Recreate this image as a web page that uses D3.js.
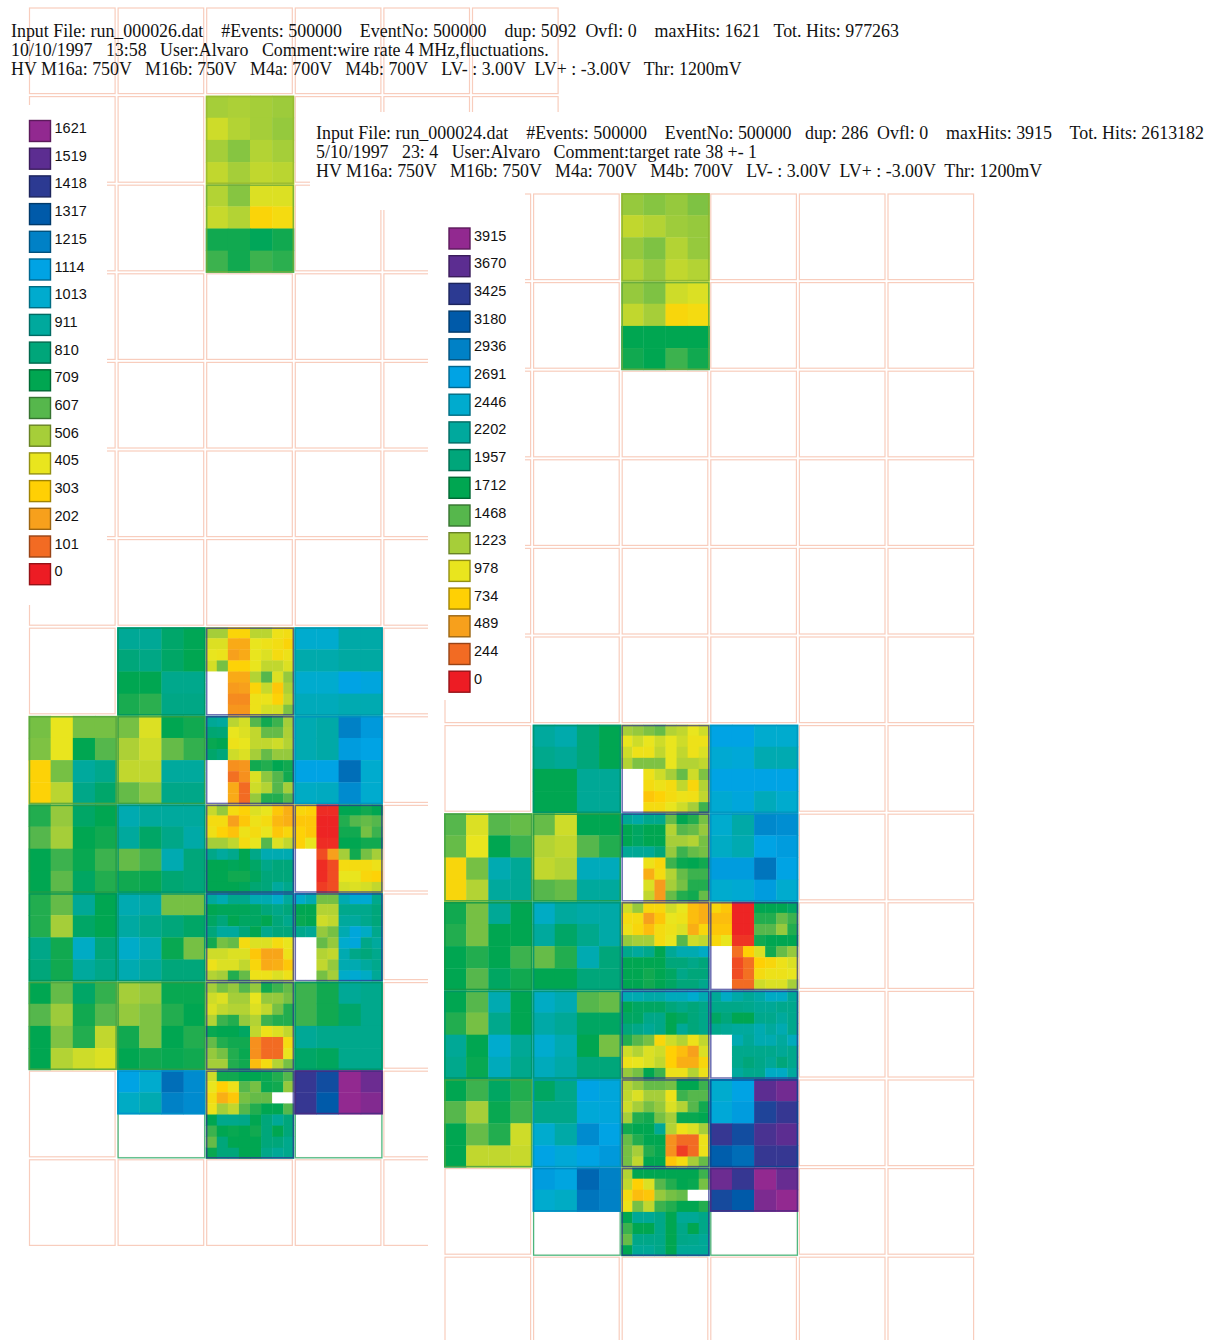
<!doctype html>
<html>
<head>
<meta charset="utf-8">
<script src="https://cdn.jsdelivr.net/npm/d3@7"></script>
<style>
  body { margin: 0; background: #fff; }
  svg { display: block; }
  .hdr { font-family: "Liberation Serif", "Times New Roman", serif; font-size: 17.9px; white-space: pre; fill: #111; }
  .leg { font-family: "Liberation Sans", Arial, sans-serif; font-size: 14.5px; fill: #111; }
</style>
</head>
<body>
<svg width="1216" height="1340"></svg>
<script>
// colour steps of the legend (lowest to highest)
var legendColors = ["#ed1c24", "#f26b23", "#f7a01c", "#ffd004", "#e9e51e", "#a6ce39", "#56b74c",
  "#00a651", "#00a67a", "#00a99d", "#00abce", "#00a3e4", "#0081c6", "#005aa9", "#2c3a92", "#5c2d91", "#922990"];

var p1Ticks = [0, 101, 202, 303, 405, 506, 607, 709, 810, 911, 1013, 1114, 1215, 1317, 1418, 1519, 1621];
var p2Ticks = [0, 244, 489, 734, 978, 1223, 1468, 1712, 1957, 2202, 2446, 2691, 2936, 3180, 3425, 3670, 3915];

var p1Header = [
  "Input File: run_000026.dat    #Events: 500000    EventNo: 500000    dup: 5092  Ovfl: 0    maxHits: 1621   Tot. Hits: 977263",
  "10/10/1997   13:58   User:Alvaro   Comment:wire rate 4 MHz,fluctuations.",
  "HV M16a: 750V   M16b: 750V   M4a: 700V   M4b: 700V   LV- : 3.00V  LV+ : -3.00V   Thr: 1200mV"
];
var p2Header = [
  "Input File: run_000024.dat    #Events: 500000    EventNo: 500000   dup: 286  Ovfl: 0    maxHits: 3915    Tot. Hits: 2613182",
  "5/10/1997   23: 4   User:Alvaro   Comment:target rate 38 +- 1",
  "HV M16a: 750V   M16b: 750V   M4a: 700V   M4b: 700V   LV- : 3.00V  LV+ : -3.00V  Thr: 1200mV"
];

// module slots [column, row] in the chamber grid
var p1Slots = [[2,1],[2,2],[1,7],[2,7],[3,7],[0,8],[1,8],[2,8],[3,8],[0,9],[1,9],[2,9],[3,9],
  [0,10],[1,10],[2,10],[3,10],[0,11],[1,11],[2,11],[3,11],[1,12],[2,12],[3,12]];
var p2Slots = [[2,0],[2,1],[1,6],[2,6],[3,6],[0,7],[1,7],[2,7],[3,7],[0,8],[1,8],[2,8],[3,8],
  [0,9],[1,9],[2,9],[3,9],[0,10],[1,10],[2,10],[3,10],[1,11],[2,11],[3,11]];

// hits per wire pad, one block per module (null = dead channel)
var p1Hits = [
  [[507,497,507,517],[446,486,507,527],[507,547,486,507],[466,507,466,476]],
  [[486,547,425,425],[456,486,324,355],[689,689,729,689],[638,689,638,658]],
  [[891,891,770,719],[810,841,760,709],[709,709,861,861],[679,658,841,841]],
  [[507,507,324,324,476,476,385,365],[425,425,223,223,405,385,365,324],[405,395,203,223,405,425,355,385],[436,567,314,314,405,466,466,425],
   [null,null,223,223,486,608,425,527],[null,null,192,203,324,456,284,496],[null,null,162,162,385,395,314,466],[null,null,182,182,385,436,436,557]],
  [[1013,1013,932,932],[942,942,922,922],[1013,1013,1114,1084],[972,972,952,952]],
  [[567,405,567,567],[557,405,709,608],[314,567,912,861],[314,476,851,770]],
  [[567,425,709,689],[496,446,588,648],[466,466,912,912],[588,537,851,851]],
  [[891,912,476,436,608,689,638,507],[790,800,405,425,466,588,588,496],[699,709,385,405,466,466,446,486],[770,810,446,425,507,588,527,527],
   [null,null,172,182,689,669,709,689],[null,null,111,172,425,537,608,689],[null,null,223,101,446,486,608,507],[null,null,223,101,527,669,669,608]],
  [[952,932,1216,1145],[952,932,1135,1114],[1114,1114,1266,1013],[993,983,1185,1013]],
  [[669,527,760,709],[608,507,709,689],[709,638,699,638],[709,598,750,669]],
  [[952,912,912,912],[912,760,851,932],[588,628,952,810],[689,699,790,810]],
  [[456,527,355,314,425,405,284,233],[355,355,203,284,385,355,253,233],[375,314,274,385,355,405,284,334],[507,507,466,355,405,608,425,466],
   [851,912,861,709,851,952,952,952],[709,709,729,709,760,851,810,810],[709,709,689,689,739,810,810,810],[709,709,709,729,790,810,912,861]],
  [[334,314,20,20,709,709,689,709],[284,284,10,10,669,608,588,608],[314,284,10,10,689,689,567,638],[314,405,20,20,709,709,689,689],
   [null,null,61,203,507,689,567,507],[null,null,20,61,355,355,355,385],[null,null,20,61,405,405,334,314],[null,null,41,61,436,425,436,466]],
  [[669,588,891,709],[669,507,760,709],[851,689,993,810],[810,689,912,851]],
  [[952,932,567,567],[922,861,810,760],[1003,952,699,567],[952,912,810,810]],
  [[912,952,861,861,952,952,1003,912],[709,729,729,729,750,810,851,810],[750,810,709,750,750,709,810,861],[810,912,912,810,709,861,810,810],
   [689,567,588,355,425,425,355,405],[446,446,425,425,284,213,213,385],[385,425,425,466,334,223,233,284],[486,507,669,588,385,385,425,385]],
  [[1003,952,567,567,952,1033,1033,861],[709,709,486,486,861,861,861,810],[699,709,446,466,912,912,861,810],[861,891,527,567,952,1074,993,861],
   [null,null,588,527,1013,1074,851,912],[null,null,486,466,952,851,810,861],[null,null,466,527,952,952,912,861],[null,null,567,507,1003,1033,993,891]],
  [[709,588,760,648],[608,517,689,608],[709,557,669,466],[709,486,446,425]],
  [[507,527,699,699],[527,557,669,709],[689,557,709,669],[709,689,699,689]],
  [[507,567,527,608,527,689,638,588],[446,425,507,507,405,527,527,567],[425,466,486,486,425,466,567,669],[486,638,669,527,486,638,669,669],
   [699,709,709,750,466,385,425,466],[588,669,689,689,172,101,101,355],[527,567,669,699,172,101,101,405],[507,507,669,689,263,355,486,567]],
  [[638,689,891,861],[638,689,770,861],[891,861,861,861],[760,739,861,861]],
  [[1114,1013,1266,1185],[993,952,1216,1185]],
  [[446,689,689,709,709,699,669,608],[405,304,385,608,567,699,689,527],[355,233,284,567,588,588,null,null],[385,507,466,608,669,709,709,608],
   [709,861,861,851,709,810,891,810],[638,709,699,709,689,810,709,810],[588,810,709,709,709,810,810,861],[699,810,810,709,709,851,891,861]],
  [[1438,1357,1621,1550],[1438,1317,1621,1590]]
];

var p2Hits = [
  [[1272,1321,1272,1346],[1126,1175,1248,1272],[1272,1346,1175,1272],[1175,1272,1126,1175]],
  [[1272,1346,1077,1028],[1126,1224,808,856],[1713,1713,1713,1713],[1664,1713,1542,1664]],
  [[2202,2276,1958,1713],[2080,2153,1958,1713],[1713,1713,2153,2153],[1713,1713,2153,2153]],
  [[1224,1272,1346,1419,1175,1126,979,1077],[979,1077,979,1077,979,1077,930,930],[1077,930,930,1126,979,1126,930,1028],[1175,1346,1346,1346,979,1175,1175,1126],
   [null,null,930,1077,1224,1419,1077,1346],[null,null,856,930,856,1126,808,1175],[null,null,685,759,856,930,905,1126],[null,null,856,856,979,1077,1224,1542]],
  [[2692,2692,2447,2447],[2496,2545,2300,2300],[2692,2692,2692,2692],[2496,2594,2349,2447]],
  [[1468,1028,1468,1419],[1419,979,1713,1542],[808,1370,2300,2153],[808,1175,2202,2153]],
  [[1419,1077,1713,1713],[1175,1126,1468,1615],[1126,1175,2349,2349],[1468,1419,2202,2202]],
  [[2153,2251,2080,2080,1419,1713,1615,1370],[1713,1811,1713,1713,1175,1468,1419,1272],[1713,1811,1713,1713,1224,1224,1175,1370],[2153,2153,2153,1958,1272,1542,1419,1370],
   [null,null,930,808,1542,1688,1713,1664],[null,null,563,856,1175,1419,1542,1542],[null,null,1028,465,1224,1370,1615,1615],[null,null,1126,465,1419,1615,1664,1419]],
  [[2447,2251,2887,2839],[2398,2300,2692,2741],[2741,2741,3010,2692],[2447,2496,2741,2447]],
  [[1664,1370,2153,1713],[1615,1370,1713,1713],[1713,1615,1713,1542],[1713,1468,1811,1664]],
  [[2398,2202,2251,2251],[2202,1835,2080,2251],[1419,1615,2300,1958],[1713,1713,1958,1958]],
  [[1077,1272,808,808,1077,979,636,563],[856,856,489,685,979,930,636,563],[930,808,636,856,930,1028,563,808],[1272,1224,1224,856,979,1468,1077,1126],
   [2080,2202,2080,1713,2153,2300,2300,2398],[1713,1713,1713,1713,1958,1958,2055,1958],[1713,1713,1664,1713,1811,2055,1958,1958],[1713,1713,1664,1713,1811,1958,1958,2080]],
  [[808,685,24,24,1713,1713,1713,1811],[636,636,24,24,1615,1615,1419,1542],[685,685,24,24,1468,1468,1272,1615],[808,979,73,73,1664,1713,1713,1713],
   [null,null,269,734,1028,1664,1419,1272],[null,null,147,269,734,808,930,1028],[null,null,147,269,856,930,930,979],[null,null,245,245,1077,1028,1028,1224]],
  [[1713,1468,2300,1713],[1615,1370,2080,1713],[2153,1713,2447,2153],[2080,1688,2349,2080]],
  [[2398,2300,1468,1419],[2251,2153,1811,1811],[2447,2300,1713,1370],[2349,2251,1958,1958]],
  [[2300,2300,2251,2251,2349,2349,2447,2300],[1713,1811,1811,1811,1958,2055,1958,2055],[1811,1811,2055,2055,1713,1811,1958,2055],[1958,2055,2153,2055,1713,2153,1958,2055],
   [1615,1468,1370,808,1077,1175,930,1126],[1077,1175,1028,1077,734,636,489,1028],[930,979,1028,1126,734,563,563,808],[1272,1370,1713,1542,930,930,1175,930]],
  [[2153,2398,2251,2153,2251,2398,2398,2153],[2055,2055,2055,2080,2153,2153,2080,2080],[1811,1958,1713,1713,2080,2080,2202,2080],[2080,2153,2202,2202,2300,2202,2300,2080],
   [null,null,2300,2153,2300,2300,2202,2349],[null,null,2080,2080,2080,2080,2153,2080],[null,null,2080,1958,2055,2153,1958,2080],[null,null,2202,2080,2080,2398,2398,2202]],
  [[1713,1542,1811,1615],[1468,1224,1688,1542],[1713,1419,1615,1077],[1713,1126,1126,1101]],
  [[1811,2055,2692,2594],[2055,2055,2545,2594],[2447,2251,2863,2692],[2692,2545,2692,2765]],
  [[1175,1272,1419,1419,1370,1713,1713,1542],[1126,1028,1224,1224,930,1542,1468,1468],[1077,1224,1370,1272,1028,1175,1468,1664],[1224,1615,1664,1370,1224,1688,1688,1713],
   [1664,1713,1713,2153,1175,930,1028,1224],[1419,1615,1713,1713,416,245,245,930],[1370,1224,1615,1688,416,98,245,930],[1370,1126,1713,1713,685,856,1224,1419]],
  [[2447,2692,3671,3768],[2545,2741,3352,3475],[3475,3279,3573,3671],[3156,3059,3475,3475]],
  [[2741,2643,3108,2936],[2447,2398,3010,2936]],
  [[1175,1713,1713,1713,1713,1713,1713,1542],[1126,734,1028,1468,1615,1713,1688,1370],[856,636,685,1272,1370,1419,null,null],[930,1370,1126,1542,1615,1713,1713,1615],
   [1713,2153,2153,2055,1713,2153,2153,2055],[1542,1713,1713,2055,1713,2055,1713,2055],[1419,2055,2055,2055,1713,2055,2080,2153],[1713,2153,2153,2055,1713,2153,2153,2153]],
  [[3744,3475,3915,3719],[3303,3181,3817,3915]]
];

var svg = d3.select("svg");
var pitch = 88.6;

function drawPanel(cfg) {
  var color = d3.scaleLinear().domain(cfg.ticks).range(legendColors).clamp(true);
  var xs = d3.scaleBand().domain(d3.range(cfg.nCols)).range([cfg.x0, cfg.x0 + cfg.nCols * pitch]);
  var ys = d3.scaleBand().domain(d3.range(cfg.nRows)).range([cfg.y0, cfg.y0 + cfg.nRows * pitch]);

  // white background of the window parts that hide what lies below
  cfg.covers.forEach(function(c) {
    svg.append("rect").attr("x", c[0]).attr("y", c[1]).attr("width", c[2]).attr("height", c[3]).attr("fill", "#fff");
  });

  // empty chamber slots
  var slots = [];
  d3.range(cfg.nCols).forEach(function(c) { d3.range(cfg.nRows).forEach(function(r) { slots.push([c, r]); }); });
  svg.append("g").selectAll("rect").data(slots).join("rect")
    .attr("x", d => xs(d[0]) + 1).attr("y", d => ys(d[1]) + 1)
    .attr("width", pitch - 3).attr("height", pitch - 3)
    .attr("fill", "none").attr("stroke", "#f8cdbd").attr("stroke-width", 1.2);

  // modules
  cfg.slots.forEach(function(s, k) {
    var rows = cfg.hits[k], n = rows[0].length;
    var cs = d3.scaleBand().domain(d3.range(n)).range([0, pitch]);
    var g = svg.append("g").attr("transform", "translate(" + xs(s[0]) + "," + ys(s[1]) + ")");
    if (rows.length < n) {
      g.append("rect").attr("x", 1).attr("y", 1).attr("width", pitch - 2).attr("height", pitch - 2)
        .attr("fill", "#fff").attr("stroke", "#3bb273").attr("stroke-width", 1.3).attr("opacity", 0.9);
    }
    var cells = [];
    rows.forEach(function(row, i) { row.forEach(function(v, j) { cells.push({i: i, j: j, v: v}); }); });
    g.selectAll("rect.cell").data(cells).join("rect").attr("class", "cell")
      .attr("x", d => cs(d.j)).attr("y", d => cs(d.i))
      .attr("width", d => cs.bandwidth() + (d.j < n - 1 ? 0.4 : 0))
      .attr("height", d => cs.bandwidth() + (d.i < rows.length - 1 ? 0.4 : 0))
      .attr("fill", d => d.v == null ? "#fff" : color(d.v));
    var mean = d3.mean(cells, d => d.v);
    var edge = n === 8 ? "#2e3192" : d3.color(color(mean)).darker(0.35).formatHex();
    g.append("rect").attr("x", 1).attr("y", 1)
      .attr("width", pitch - 2).attr("height", rows.length * cs.bandwidth() - 2)
      .attr("fill", "none").attr("stroke", edge).attr("stroke-width", 1.5).attr("opacity", n === 8 ? 0.7 : 0.85);
  });

  // legend
  svg.append("rect").attr("x", cfg.legBg[0]).attr("y", cfg.legBg[1]).attr("width", cfg.legBg[2]).attr("height", cfg.legBg[3]).attr("fill", "#fff");
  var legend = cfg.ticks.slice().reverse();
  var ly = d3.scalePoint().domain(legend).range([cfg.legY, cfg.legY + 16 * 27.7]);
  var lg = svg.append("g");
  lg.selectAll("rect").data(legend).join("rect")
    .attr("x", cfg.legX).attr("y", d => ly(d)).attr("width", 21).attr("height", 21)
    .attr("fill", d => color(d)).attr("stroke", d => d3.color(color(d)).darker(1.3).formatHex()).attr("stroke-width", 1.4);
  lg.selectAll("text").data(legend).join("text").attr("class", "leg")
    .attr("x", cfg.legX + 25).attr("y", d => ly(d) + 12.5).text(d => d);

  // header
  svg.append("g").selectAll("text").data(cfg.header).join("text").attr("class", "hdr")
    .attr("xml:space", "preserve")
    .attr("x", cfg.hx).attr("y", (d, i) => cfg.hy + i * 19).text(d => d);
}

drawPanel({
  ticks: p1Ticks, slots: p1Slots, hits: p1Hits, header: p1Header,
  x0: 28.5, y0: 7, nCols: 6, nRows: 14, covers: [],
  legBg: [0, 105, 107, 500], legX: 29.5, legY: 120.5, hx: 11, hy: 37
});
drawPanel({
  ticks: p2Ticks, slots: p2Slots, hits: p2Hits, header: p2Header,
  x0: 444, y0: 193, nCols: 6, nRows: 13,
  covers: [[310, 112, 906, 98], [428, 185, 788, 1155]],
  legBg: [430, 190, 95, 510], legX: 449, legY: 228, hx: 316, hy: 139
});
</script>
</body>
</html>
